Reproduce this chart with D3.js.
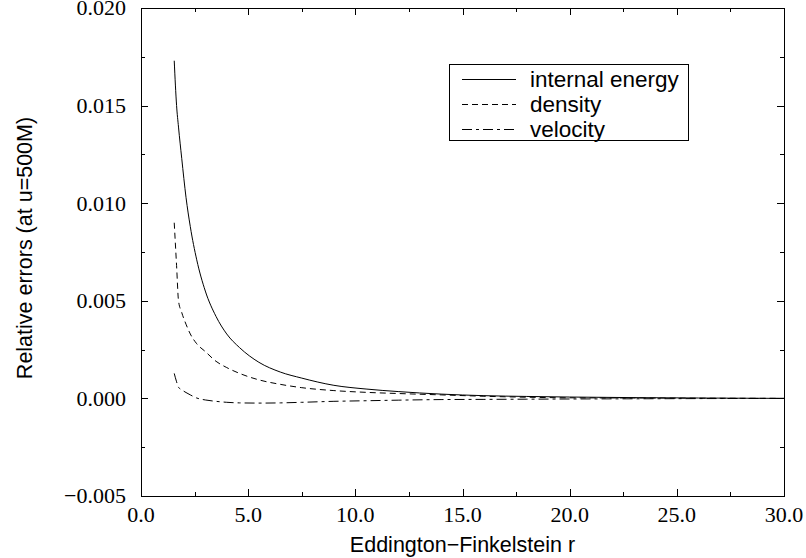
<!DOCTYPE html>
<html>
<head>
<meta charset="utf-8">
<script src="https://cdn.jsdelivr.net/npm/d3@7"></script>
<style>
  body { margin: 0; background: #fff; }
  .tick-label { font-family: "Liberation Serif", "Times New Roman", serif; font-size: 22px; fill: #000; }
  .title { font-family: "Liberation Sans", Arial, sans-serif; font-size: 21.5px; fill: #000; }
  .legend-label { font-family: "Liberation Sans", Arial, sans-serif; font-size: 22.5px; fill: #000; }
</style>
</head>
<body>
<svg id="chart" width="806" height="558"></svg>
<script>
// radius samples shared by all three curves
const rValues = [1.55, 1.66, 1.75, 1.9, 2.1, 2.3, 2.6, 3.0, 3.5, 4.0, 4.6, 5.5,
  6.5, 7.5, 9, 10.5, 12, 14, 16, 18, 20, 23, 26, 30];

const internalEnergy = [0.0173, 0.0150, 0.0139, 0.0123, 0.0103, 0.0088, 0.0071,
  0.0055, 0.0042, 0.0033, 0.0026, 0.00185, 0.00135, 0.00104, 0.00067, 0.00048,
  0.00035, 0.00022, 0.00014, 0.0001, 0.00007, 0.00004, 0.00002, 0.0];

const density = [0.0090, 0.0068, 0.0050, 0.0044, 0.0038, 0.0033, 0.0028, 0.0024,
  0.0019, 0.00158, 0.00128, 0.00095, 0.00072, 0.00055, 0.0004, 0.00031, 0.00025,
  0.00018, 0.00011, 0.00006, 0.00003, 0.00002, 0.00001, 0.0];

const velocity = [0.00128, 0.00085, 0.00057, 0.00044, 0.0003, 0.00018, 0.00002,
  -0.00008, -0.00015, -0.0002, -0.00023, -0.00024, -0.00023, -0.0002, -0.00015,
  -0.00012, -0.00009, -0.00006, -0.00005, -0.00004, -0.00003, -0.00002, -0.00001, 0.0];

const seriesNames = ["internal energy", "density", "velocity"];
const seriesValues = [internalEnergy, density, velocity];
const dashes = [null, "6,4", "10,4,3,4"];

const xTicks = [0, 5, 10, 15, 20, 25, 30];
const yTicks = [-0.005, 0, 0.005, 0.010, 0.015, 0.020];

const svg = d3.select("#chart");
const plotLeft = 141, plotRight = 784, plotTop = 8, plotBottom = 496;

const x = d3.scaleLinear().domain([0, 30]).range([plotLeft, plotRight]);
const y = d3.scaleLinear().domain([-0.005, 0.020]).range([plotBottom, plotTop]);

// frame
svg.append("rect")
  .attr("x", plotLeft + 0.5).attr("y", plotTop + 0.5)
  .attr("width", plotRight - plotLeft).attr("height", plotBottom - plotTop)
  .attr("fill", "none").attr("stroke", "#000").attr("stroke-width", 1);

// ticks on all four sides, pointing inward
const majorLen = 7, minorLen = 4;
const ticks = svg.append("g").attr("stroke", "#000").attr("stroke-width", 1);
d3.range(0, 30.01, 2.5).forEach((v, i) => {
  const len = i % 2 === 0 ? majorLen : minorLen;
  const px = Math.round(x(v)) + 0.5;
  ticks.append("line").attr("x1", px).attr("x2", px).attr("y1", plotBottom).attr("y2", plotBottom - len);
  ticks.append("line").attr("x1", px).attr("x2", px).attr("y1", plotTop).attr("y2", plotTop + len);
});
d3.range(-0.005, 0.02001, 0.0025).forEach((v, i) => {
  const len = i % 2 === 0 ? majorLen : minorLen;
  const py = Math.round(y(v)) + 0.5;
  ticks.append("line").attr("y1", py).attr("y2", py).attr("x1", plotLeft).attr("x2", plotLeft + len);
  ticks.append("line").attr("y1", py).attr("y2", py).attr("x1", plotRight).attr("x2", plotRight - len);
});

// tick labels
svg.append("g").selectAll("text").data(xTicks).join("text")
  .attr("class", "tick-label")
  .attr("x", (d) => x(d)).attr("y", 522)
  .attr("text-anchor", "middle")
  .text(d3.format(".1f"));

svg.append("g").selectAll("text").data(yTicks).join("text")
  .attr("class", "tick-label")
  .attr("x", 126).attr("y", (d) => y(d)).attr("dy", "0.34em")
  .attr("text-anchor", "end")
  .text(d3.format(".3f"));

// axis titles
svg.append("text").attr("class", "title")
  .attr("x", (plotLeft + plotRight) / 2).attr("y", 552)
  .attr("text-anchor", "middle")
  .text("Eddington\u2212Finkelstein r");

svg.append("text").attr("class", "title")
  .attr("transform", "translate(32,248) rotate(-90)")
  .attr("text-anchor", "middle")
  .text("Relative errors (at u=500M)");

// curves
const line = d3.line()
  .x((d) => x(d[0]))
  .y((d) => y(d[1]))
  .curve(d3.curveMonotoneX);

seriesValues.forEach((vals, i) => {
  svg.append("path")
    .datum(rValues.map((r, j) => [r, vals[j]]))
    .attr("d", line)
    .attr("fill", "none")
    .attr("stroke", "#000")
    .attr("stroke-width", 1)
    .attr("stroke-dasharray", dashes[i]);
});

// legend
const legend = svg.append("g");
legend.append("rect")
  .attr("x", 449.5).attr("y", 64.5).attr("width", 239).attr("height", 76)
  .attr("fill", "#fff").attr("stroke", "#000");
seriesNames.forEach((name, i) => {
  const ly = 79.5 + i * 25;
  legend.append("line")
    .attr("x1", 462).attr("x2", 516).attr("y1", ly).attr("y2", ly)
    .attr("stroke", "#000").attr("stroke-dasharray", dashes[i]);
  legend.append("text").attr("class", "legend-label")
    .attr("x", 530).attr("y", ly + 7.5)
    .text(name);
});
</script>
</body>
</html>
